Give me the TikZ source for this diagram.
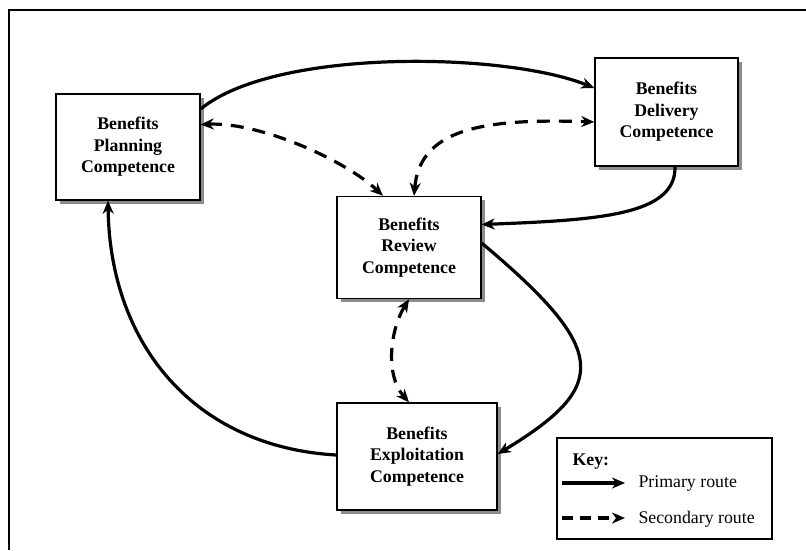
\documentclass[tikz,border=0pt]{standalone}
\usepackage{fontspec}
\setmainfont{Liberation Serif}
\usetikzlibrary{arrows.meta,shadows}

\begin{document}
\begin{tikzpicture}[x=1pt,y=-1pt,
  >={Stealth[length=13pt,width=11pt,inset=4pt]},
  box/.style={draw,fill=white,line width=1.4pt,align=center,
    font=\fontsize{17.8}{21.5}\selectfont\bfseries,
    general shadow={fill=black!45,shadow xshift=3.5pt,shadow yshift=-3.5pt}},
  primary/.style={line width=3.2pt,->},
  secondary/.style={line width=3.2pt,dash pattern=on 13pt off 9pt,<->},
  keytext/.style={anchor=west,font=\fontsize{17.8}{21.5}\selectfont}]

\useasboundingbox (0,0) rectangle (806,550);

% Frame
\draw[line width=1.5pt] (9,550) -- (9,10) -- (806,10);

% Competences
\node[box,minimum width=144pt,minimum height=106pt] (plan) at (128,147)
  {Benefits\\Planning\\Competence};
\node[box,minimum width=143pt,minimum height=108pt] (deliv) at (666.5,112)
  {Benefits\\Delivery\\Competence};
\node[box,minimum width=144pt,minimum height=102pt] (review) at (409,247.5)
  {Benefits\\Review\\Competence};
\node[box,minimum width=160pt,minimum height=107pt] (exploit) at (417,456.5)
  {Benefits\\Exploitation\\Competence};

% Primary routes
\draw[primary] ([yshift=38pt]plan.east)
  .. controls (275,48) and (505,52) .. ([yshift=24pt]deliv.west);
\draw[primary] ([xshift=8.5pt]deliv.south)
  .. controls (676,215) and (600,220) .. ([yshift=23pt]review.east);
\draw[primary] ([yshift=4.5pt]review.east)
  .. controls (609,350) and (610,386) .. ([yshift=2.5pt]exploit.east);
\draw[primary] ([yshift=1.5pt]exploit.west)
  .. controls (195,447) and (110,345) .. ([xshift=-20pt]plan.south);

% Secondary routes
\draw[secondary] ([yshift=22.5pt]plan.east)
  .. controls (260,122) and (345,160) .. ([xshift=-26pt]review.north);
\draw[secondary] ([xshift=5pt]review.north)
  .. controls (420,130) and (480,118) .. ([yshift=-10pt]deliv.west);
\draw[secondary] (review.south)
  .. controls (390,330) and (385,375) .. ([xshift=-8pt]exploit.north);

% Key
\node[draw,line width=1.2pt,minimum width=215pt,minimum height=101pt] (key) at (664.5,488.5) {};
\node[keytext,font=\fontsize{17.8}{21.5}\selectfont\bfseries] (keytitle) at (569,462) {Key:};
\coordinate (pa) at (562,483);
\coordinate (pb) at (625,483);
\coordinate (sa) at (562,518);
\coordinate (sb) at (625,518);
\draw[primary] (pa) -- (pb);
\draw[line width=3.2pt,dash pattern=on 11pt off 7pt,->] (sa) -- (sb);
\node[keytext] (prim) at (635,484) {Primary route};
\node[keytext] (sec) at (635,519) {Secondary route};

\end{tikzpicture}
\end{document}
